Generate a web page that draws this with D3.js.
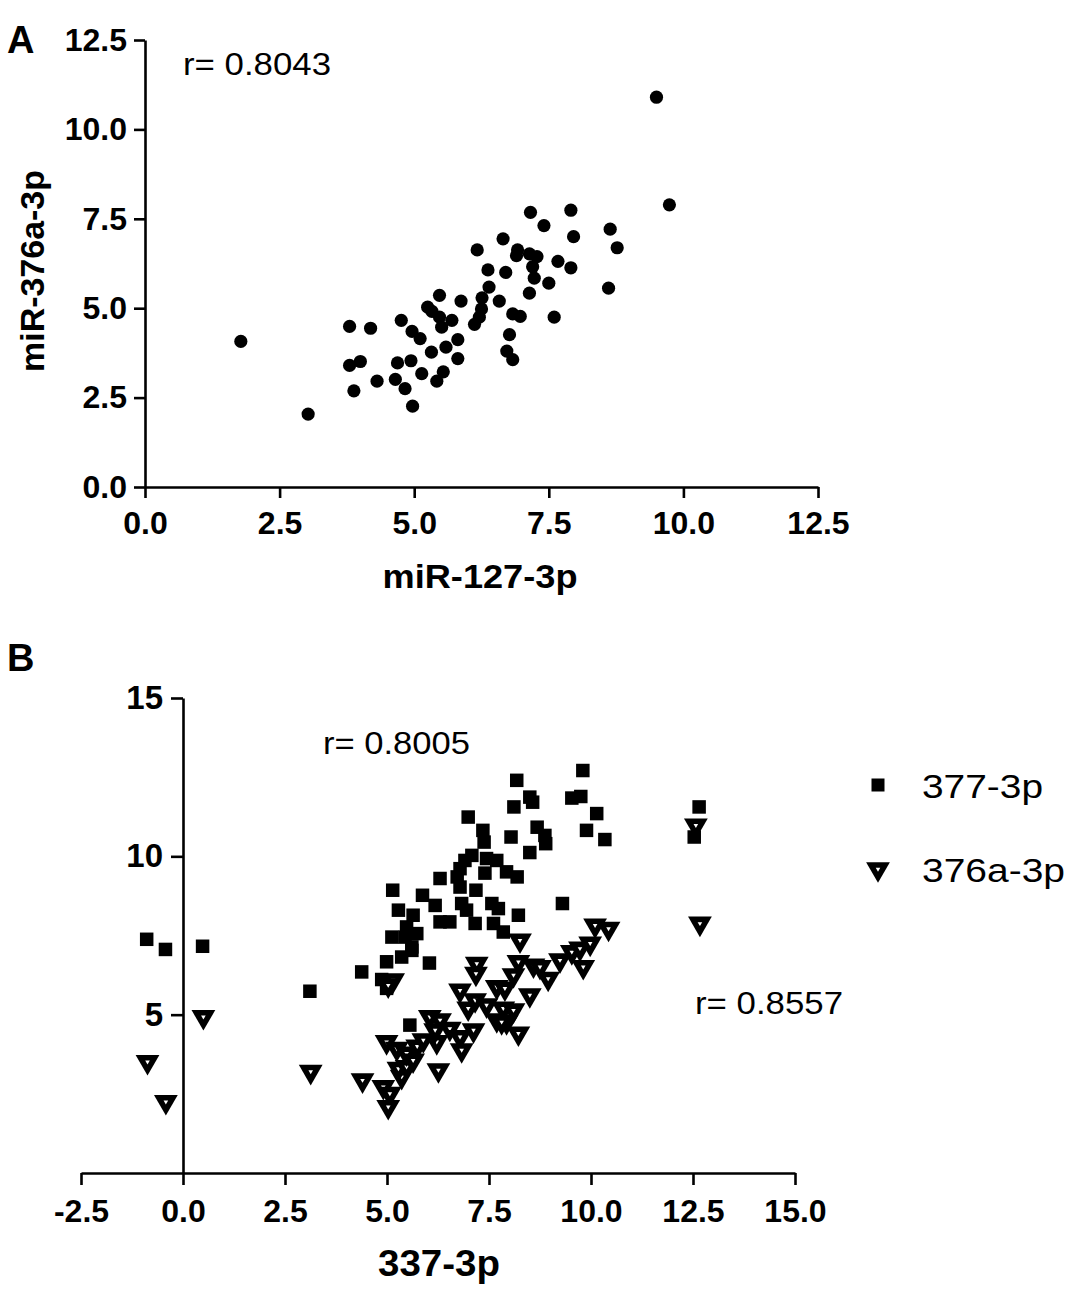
<!DOCTYPE html>
<html>
<head>
<meta charset="utf-8">
<script src="https://cdn.jsdelivr.net/npm/d3@7/dist/d3.min.js"></script>
<style>
  html, body { margin: 0; padding: 0; background: #fff; }
  svg { display: block; }
  text { font-family: "Liberation Sans", Arial, Helvetica, sans-serif; fill: #000; }
</style>
</head>
<body>
<svg id="chart" width="1080" height="1300"></svg>
<script>
// ---------- Panel A data: miR-127-3p (x) vs miR-376a-3p (y) ----------
const panelA_x = [1.78, 3.03, 3.80, 4.19, 3.80, 4.00, 3.88, 4.31, 4.65, 4.83, 4.97, 4.69, 4.94, 5.14, 5.42, 5.54,
  5.32, 5.59, 5.81, 5.81, 4.76, 4.96, 5.11, 5.25, 5.33, 5.47, 5.47, 5.51, 5.70, 5.87, 6.12, 6.21, 6.25, 6.26,
  6.39, 6.37, 6.17, 6.58, 6.70, 6.65, 6.83, 6.97, 6.77, 6.72, 6.83, 6.92, 6.90, 7.16, 7.41, 7.14, 7.28, 7.20,
  7.23, 7.14, 7.50, 7.67, 7.60, 7.91, 7.96, 7.91, 8.64, 8.77, 8.61, 9.50, 9.74];
const panelA_y = [4.07, 2.04, 4.49, 4.44, 3.40, 3.51, 2.69, 2.96, 3.01, 2.75, 2.26, 3.47, 3.53, 3.17, 2.96, 3.22,
  3.77, 3.91, 4.12, 3.59, 4.66, 4.35, 4.15, 5.03, 4.91, 5.36, 4.75, 4.47, 4.66, 5.20, 4.55, 4.75, 4.98, 5.29,
  5.59, 6.07, 6.63, 5.20, 6.00, 6.94, 4.84, 4.77, 4.26, 3.80, 3.56, 6.63, 6.47, 7.68, 7.31, 6.52, 6.44, 6.16,
  5.84, 5.42, 5.70, 6.31, 4.75, 7.74, 7.00, 6.13, 7.21, 6.69, 5.56, 10.90, 7.89];
const panelA_xTicks = [0.0, 2.5, 5.0, 7.5, 10.0, 12.5];
const panelA_yTicks = [0.0, 2.5, 5.0, 7.5, 10.0, 12.5];
const panelA_r = "r= 0.8043";

// ---------- Panel B data: 337-3p (x) vs 377-3p (squares) and 376a-3p (triangles) ----------
const seriesNames = ["377-3p", "376a-3p"];
const sq_x = [-0.89, -0.43, 0.48, 3.11, 4.38, 4.87, 4.99, 4.99, 5.36, 5.61, 5.61, 5.44, 5.12, 5.73, 5.48, 5.64,
  5.28, 5.14, 5.87, 6.18, 6.04, 5.56, 6.30, 6.54, 6.30, 6.83, 6.95, 6.79, 7.18, 6.72, 6.79, 6.91, 7.08, 7.44,
  7.69, 7.40, 7.93, 8.19, 7.16, 7.57, 7.73, 7.61, 7.85, 8.22, 6.99, 7.35, 7.38, 8.04, 8.11, 8.18, 8.50, 8.57,
  8.68, 8.87, 8.89, 8.50, 9.30, 9.53, 9.75, 9.80, 10.14, 9.89, 10.34, 12.65, 12.53];
const sq_y = [7.38, 7.06, 7.16, 5.74, 6.35, 6.11, 5.83, 6.67, 6.82, 7.03, 7.14, 7.45, 7.45, 7.56, 7.77, 8.14,
  8.30, 8.93, 8.77, 8.45, 6.63, 4.67, 7.93, 7.93, 9.30, 8.51, 8.30, 9.03, 8.93, 9.35, 9.61, 9.87, 10.03, 9.93,
  9.87, 9.47, 9.51, 9.35, 7.88, 8.51, 8.35, 7.88, 7.61, 8.14, 11.24, 10.82, 10.45, 10.61, 11.56, 12.40, 11.87, 11.71,
  10.92, 10.66, 10.40, 10.12, 8.51, 11.84, 11.89, 12.71, 11.35, 10.82, 10.53, 11.56, 10.61];
const tri_x = [-0.87, -0.42, 0.50, 3.13, 4.40, 4.91, 5.07, 5.03, 5.36, 5.28, 5.48, 4.99, 5.24, 5.48, 5.64, 5.74,
  5.89, 6.22, 6.26, 6.05, 6.30, 6.18, 6.54, 6.79, 6.83, 7.12, 6.79, 6.99, 7.16, 7.44, 7.69, 7.89, 7.85, 8.10,
  7.69, 7.93, 8.22, 7.81, 8.50, 8.10, 8.22, 8.26, 8.59, 8.75, 8.95, 7.20, 7.18, 5.15, 5.03, 9.24, 9.53, 9.73,
  9.81, 9.98, 10.10, 10.43, 12.57, 12.67];
const tri_y = [3.51, 2.25, 4.93, 3.20, 2.93, 2.72, 2.51, 2.09, 3.04, 3.30, 3.35, 4.14, 3.93, 3.78, 3.56, 4.00,
  4.20, 4.14, 3.25, 4.93, 4.83, 4.51, 4.56, 4.30, 3.88, 4.51, 5.77, 5.20, 5.46, 5.30, 5.88, 5.83, 5.20, 5.14,
  4.83, 4.77, 4.41, 4.77, 5.62, 6.25, 6.67, 7.35, 6.56, 6.51, 6.14, 6.61, 6.30, 6.09, 5.93, 6.72, 6.98, 7.09,
  6.51, 7.25, 7.82, 7.72, 10.98, 7.88];
const panelB_xTicks = [-2.5, 0.0, 2.5, 5.0, 7.5, 10.0, 12.5, 15.0];
const panelB_yTicks = [5, 10, 15];
const panelB_r1 = "r= 0.8005";
const panelB_r2 = "r= 0.8557";

// ---------- drawing ----------
const svg = d3.select("#chart");
const AXW = 2.6;
const fmt1 = v => d3.format(".1f")(v).replace("\u2212", "-");

function styleAxis(g, size) {
  g.selectAll("path.domain").attr("stroke", "#000").attr("stroke-width", AXW);
  g.selectAll(".tick line").attr("stroke", "#000").attr("stroke-width", AXW);
  g.selectAll(".tick text").attr("font-size", size).attr("font-weight", "bold")
    .attr("font-family", '"Liberation Sans", Arial, sans-serif').attr("fill", "#000");
}

// Panel A
const xA = d3.scaleLinear().domain([0, 12.5]).range([145, 818]);
const yA = d3.scaleLinear().domain([0, 12.5]).range([487, 40]);

const gAx = svg.append("g").attr("transform", `translate(0,${yA(0)})`)
  .call(d3.axisBottom(xA).tickValues(panelA_xTicks).tickFormat(fmt1)
    .tickSize(11).tickSizeOuter(0).tickPadding(13));
styleAxis(gAx, 32);
const gAy = svg.append("g").attr("transform", `translate(${xA(0)},0)`)
  .call(d3.axisLeft(yA).tickValues(panelA_yTicks).tickFormat(fmt1)
    .tickSize(11).tickSizeOuter(0).tickPadding(7));
styleAxis(gAy, 32);

svg.append("g").selectAll("circle").data(panelA_x.map((x, i) => [x, panelA_y[i]]))
  .join("circle")
  .attr("cx", d => xA(d[0])).attr("cy", d => yA(d[1])).attr("r", 6.6).attr("fill", "#000");

svg.append("text").attr("x", 7).attr("y", 53).attr("font-size", 38).attr("font-weight", "bold").text("A");
svg.append("text").attr("x", 183).attr("y", 75).attr("font-size", 31)
  .attr("textLength", 148).attr("lengthAdjust", "spacingAndGlyphs").text(panelA_r);
svg.append("text").attr("x", 480).attr("y", 588).attr("font-size", 34).attr("font-weight", "bold")
  .attr("text-anchor", "middle").attr("textLength", 195).attr("lengthAdjust", "spacingAndGlyphs")
  .text("miR-127-3p");
svg.append("text").attr("transform", "translate(44,271) rotate(-90)").attr("font-size", 34)
  .attr("font-weight", "bold").attr("text-anchor", "middle")
  .attr("textLength", 202).attr("lengthAdjust", "spacingAndGlyphs").text("miR-376a-3p");

// Panel B
const xB = d3.scaleLinear().domain([-2.5, 15]).range([81, 795]);
const yB = d3.scaleLinear().domain([0, 15]).range([1173, 698]);

const gBx = svg.append("g").attr("transform", `translate(0,${yB(0)})`)
  .call(d3.axisBottom(xB).tickValues(panelB_xTicks).tickFormat(fmt1)
    .tickSize(12).tickSizeOuter(0).tickPadding(14));
styleAxis(gBx, 32);
const gBy = svg.append("g").attr("transform", `translate(${xB(0)},0)`)
  .call(d3.axisLeft(yB).tickValues(panelB_yTicks).tickFormat(d3.format("d"))
    .tickSize(12).tickSizeOuter(0).tickPadding(8));
styleAxis(gBy, 33);

const sqSize = 13.5;
svg.append("g").selectAll("rect").data(sq_x.map((x, i) => [x, sq_y[i]]))
  .join("rect")
  .attr("x", d => xB(d[0]) - sqSize / 2).attr("y", d => yB(d[1]) - sqSize / 2)
  .attr("width", sqSize).attr("height", sqSize).attr("fill", "#000");

const triOuter = d3.symbol(d3.symbolTriangle, 245)();
const triInner = d3.symbol(d3.symbolTriangle, 9)();
const triG = svg.append("g").selectAll("g").data(tri_x.map((x, i) => [x, tri_y[i]]))
  .join("g")
  .attr("transform", d => `translate(${xB(d[0])},${yB(d[1])}) rotate(180)`);
triG.append("path").attr("d", triOuter).attr("fill", "#000");
triG.append("path").attr("d", triInner).attr("fill", "#fff");

svg.append("text").attr("x", 7).attr("y", 671).attr("font-size", 38).attr("font-weight", "bold").text("B");
svg.append("text").attr("x", 323).attr("y", 754).attr("font-size", 31)
  .attr("textLength", 147).attr("lengthAdjust", "spacingAndGlyphs").text(panelB_r1);
svg.append("text").attr("x", 695).attr("y", 1014).attr("font-size", 31)
  .attr("textLength", 148).attr("lengthAdjust", "spacingAndGlyphs").text(panelB_r2);
svg.append("text").attr("x", 439).attr("y", 1276).attr("font-size", 36).attr("font-weight", "bold")
  .attr("text-anchor", "middle").attr("textLength", 122).attr("lengthAdjust", "spacingAndGlyphs")
  .text("337-3p");

// Legend
const legend = svg.append("g");
const legendY = [785, 869];
legend.append("rect").attr("x", 878 - 6.5).attr("y", legendY[0] - 6.5).attr("width", 13).attr("height", 13).attr("fill", "#000");
const lt = legend.append("g").attr("transform", `translate(878,${legendY[1]}) rotate(180)`);
lt.append("path").attr("d", triOuter).attr("fill", "#000");
lt.append("path").attr("d", triInner).attr("fill", "#fff");
legend.selectAll("text.leg").data(seriesNames).join("text").attr("class", "leg")
  .attr("x", 922).attr("y", (d, i) => legendY[i] + 13).attr("font-size", 33)
  .attr("textLength", (d, i) => i === 0 ? 121 : 143).attr("lengthAdjust", "spacingAndGlyphs")
  .text(d => d);
</script>
</body>
</html>
